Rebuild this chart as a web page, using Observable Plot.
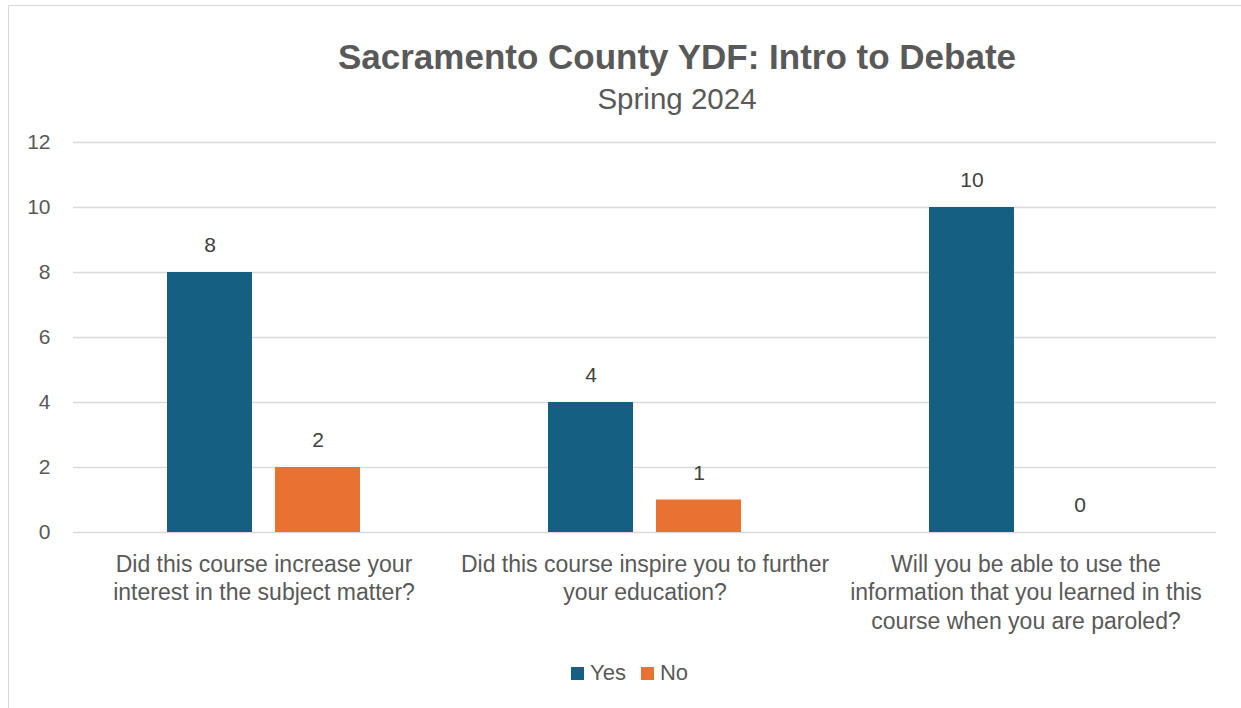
<!DOCTYPE html>
<html>
<head>
<meta charset="utf-8">
<script src="https://cdn.jsdelivr.net/npm/d3@7"></script>
<script src="https://cdn.jsdelivr.net/npm/@observablehq/plot@0.6"></script>
<style>
  html, body { margin: 0; padding: 0; background: #fff; overflow: hidden; }
  #chart { position: relative; width: 1241px; height: 708px; font-family: "Liberation Sans", Arial, sans-serif; color: #595959; }
  .frame { position: absolute; left: 8px; top: 5px; width: 1240px; height: 710px; border: 1.5px solid #d9d9d9; box-sizing: border-box; }
  .title { position: absolute; left: 177px; width: 1000px; text-align: center; top: 39px; font-size: 35px; line-height: 35px; font-weight: bold; }
  .subtitle { position: absolute; left: 177px; width: 1000px; text-align: center; top: 84px; font-size: 29.5px; line-height: 29.5px; }
  #plot { position: absolute; left: 0; top: 120px; }
  .legend { position: absolute; left: 571px; top: 660px; display: flex; align-items: center; font-size: 22px; line-height: 26px; }
  .legend .sw { width: 13px; height: 13px; display: inline-block; margin-right: 6px; }
  .legend .item { display: flex; align-items: center; margin-right: 15px; }
</style>
</head>
<body>
<div id="chart">
  <div class="frame"></div>
  <div class="title" id="title"></div>
  <div class="subtitle" id="subtitle"></div>
  <div id="plot"></div>
  <div class="legend" id="legend"></div>
</div>
<script>
const titleText = "Sacramento County YDF: Intro to Debate";
const subtitleText = "Spring 2024";
const categories = [
  "Did this course increase your\ninterest in the subject matter?",
  "Did this course inspire you to further\nyour education?",
  "Will you be able to use the\ninformation that you learned in this\ncourse when you are paroled?"
];
const seriesNames = ["Yes", "No"];
const yesValues = [8, 4, 10];
const noValues = [2, 1, 0];
const yTicks = [0, 2, 4, 6, 8, 10, 12];
const colors = ["#156082", "#E97132"];

const data = [];
categories.forEach((c, i) => {
  data.push({category: c, series: "Yes", value: yesValues[i]});
  data.push({category: c, series: "No", value: noValues[i]});
});

document.getElementById("title").textContent = titleText;
document.getElementById("subtitle").textContent = subtitleText;

const plot = Plot.plot({
  width: 1241,
  height: 517,
  marginTop: 22,
  marginBottom: 105,
  marginLeft: 73,
  marginRight: 25,
  style: {fontFamily: "'Liberation Sans', Arial, sans-serif", color: "#595959", background: "transparent"},
  fx: {domain: categories, padding: 0, label: null},
  x: {domain: seriesNames, paddingInner: 0.217, paddingOuter: 0.867, axis: null},
  y: {domain: [0, 12], axis: null, label: null},
  color: {domain: seriesNames, range: colors},
  marks: [
    Plot.gridY(yTicks, {stroke: "#d9d9d9", strokeOpacity: 1, strokeWidth: 1.5}),
    Plot.barY(data, {fx: "category", x: "series", y: "value", fill: "series"}),
    Plot.text(data, {fx: "category", x: "series", y: "value", text: d => String(d.value), dy: -27, fontSize: 21, fill: "#404040"}),
    Plot.axisY(yTicks, {tickSize: 0, tickPadding: 23, fontSize: 21, label: null, tickFormat: d => String(d), fill: "#595959"}),
    Plot.axisFx({anchor: "bottom", tickSize: 0, tickPadding: 19, fontSize: 23, lineHeight: 1.24, label: null, fill: "#595959"})
  ]
});
document.getElementById("plot").appendChild(plot);

const legend = document.getElementById("legend");
seriesNames.forEach((s, i) => {
  const item = document.createElement("div");
  item.className = "item";
  const sw = document.createElement("span");
  sw.className = "sw";
  sw.style.background = colors[i];
  const t = document.createElement("span");
  t.textContent = s;
  item.appendChild(sw);
  item.appendChild(t);
  legend.appendChild(item);
});
</script>
</body>
</html>
